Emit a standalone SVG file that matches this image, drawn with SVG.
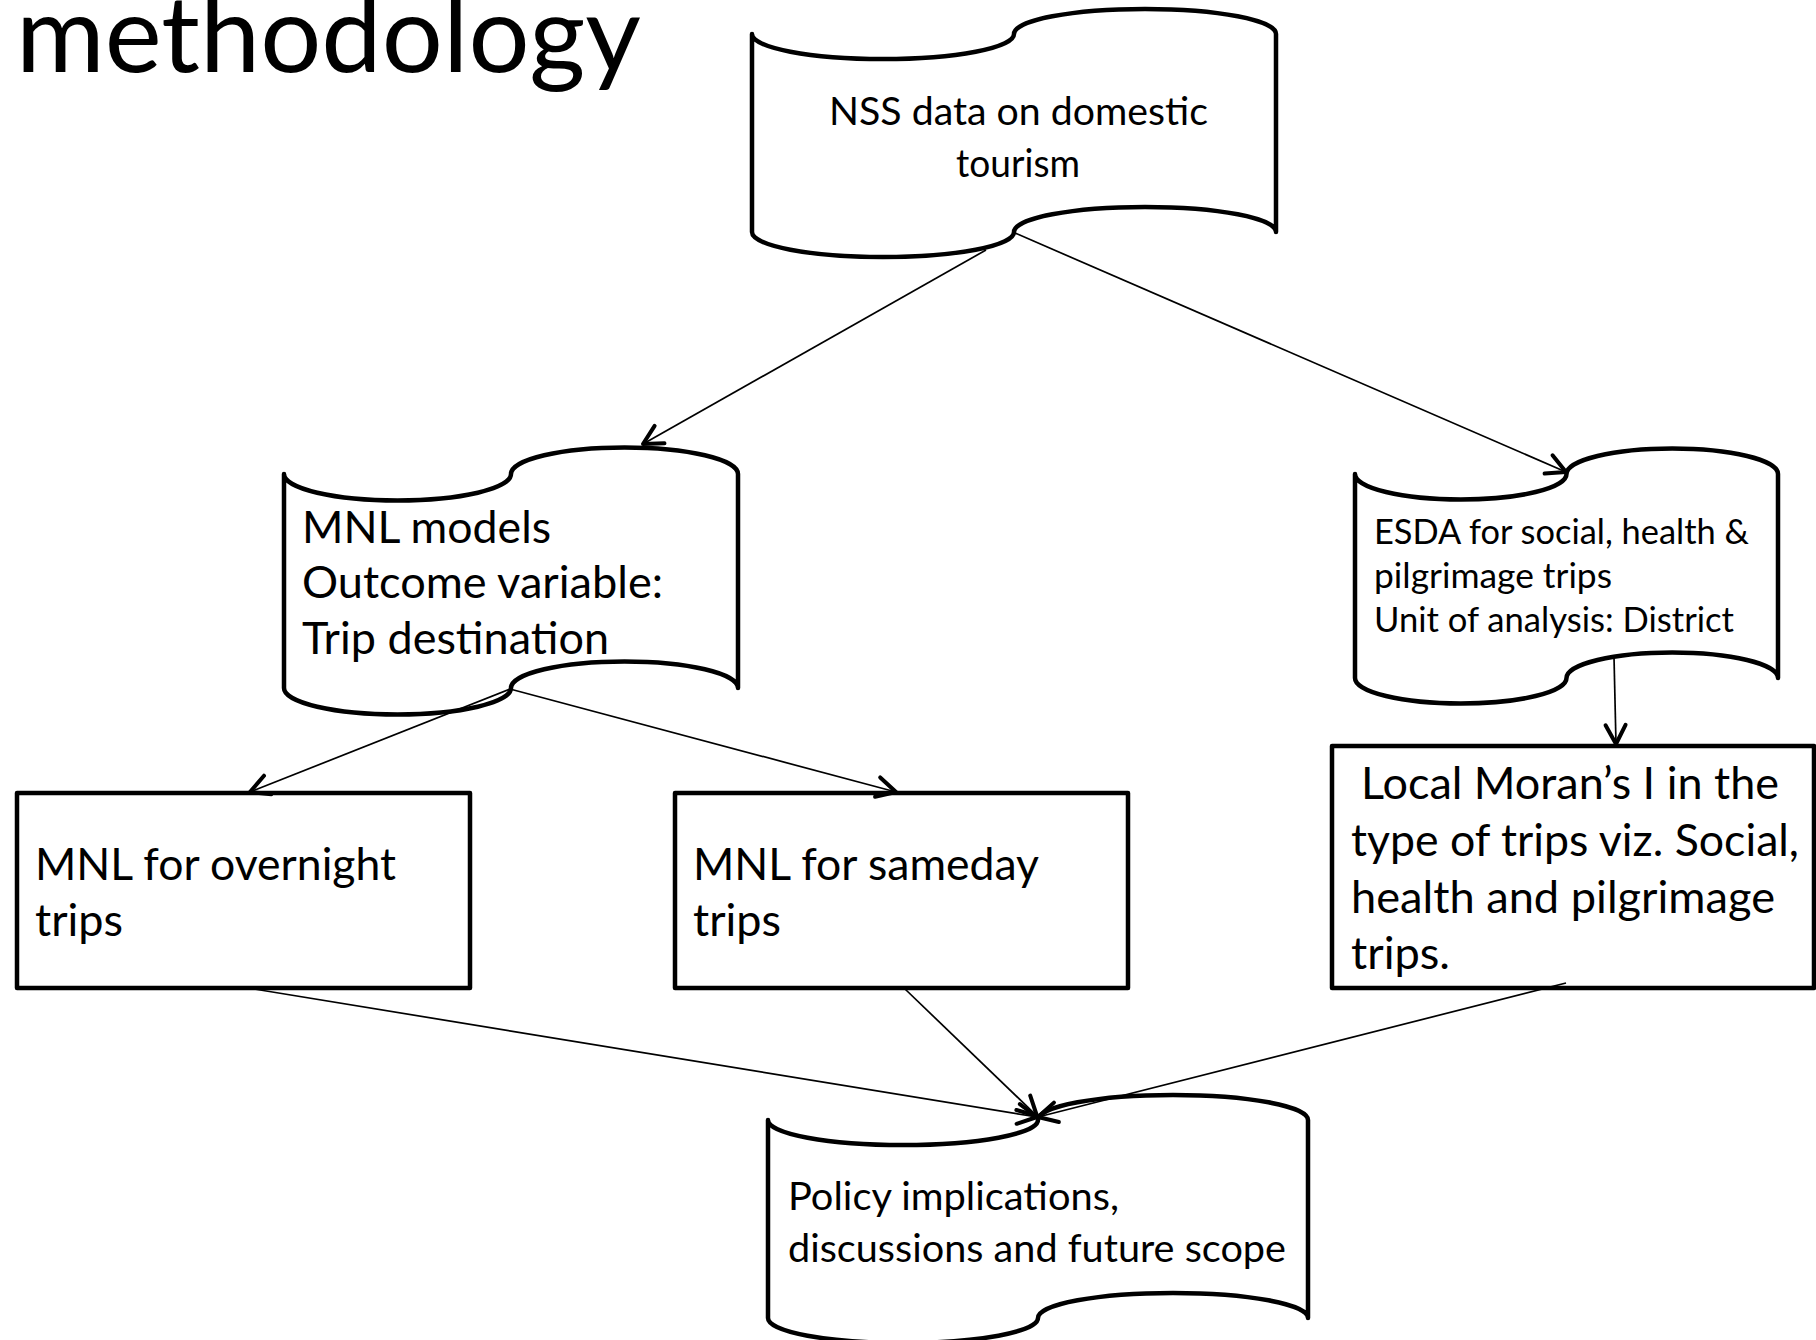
<svg xmlns="http://www.w3.org/2000/svg" width="1816" height="1340" viewBox="0 0 1816 1340">
  <style>
    .tape, .box { fill: #fff; stroke: #000; stroke-width: 4.5; stroke-linejoin: round; }
    .link { fill: none; stroke: #000; stroke-width: 1.7; marker-end: url(#arrow); }
    text { font-family: Lato, "Liberation Sans", sans-serif; fill: #000; }
    .t38 { font-size: 38px; }
    .t34 { font-size: 34px; }
    .t44 { font-size: 44px; }
    .title { font-size: 106px; }
  </style>
  <defs>
    <marker id="arrow" markerUnits="userSpaceOnUse" markerWidth="40" markerHeight="40" viewBox="-30 -20 40 40" refX="0" refY="0" orient="auto" overflow="visible">
      <path d="M-19,-10 L0,0 L-19,10" fill="none" stroke="#000" stroke-width="4" stroke-linecap="round" stroke-linejoin="round"/>
    </marker>
  </defs>

  <rect width="1816" height="1340" fill="#fff"/>

  <text class="title" x="16" y="72" textLength="625" lengthAdjust="spacingAndGlyphs">methodology</text>

  <!-- punched-tape data node -->
  <g id="nss-data">
    <path class="tape" d="M752,34 A131,25 0 0 0 1014,34 A131,25 0 0 1 1276,34 L1276,232 A131,25 0 0 0 1014,232 A131,25 0 0 1 752,232 Z"/>
    <text class="t38" x="829" y="125" textLength="379" lengthAdjust="spacingAndGlyphs">NSS data on domestic</text>
    <text class="t38" x="956" y="177" textLength="124" lengthAdjust="spacingAndGlyphs">tourism</text>
  </g>

  <g id="mnl-models">
    <path class="tape" d="M284,474 A113.5,26.5 0 0 0 511,474 A113.5,26.5 0 0 1 738,474 L738,688 A113.5,26.5 0 0 0 511,688 A113.5,26.5 0 0 1 284,688 Z"/>
    <text class="t44" x="302" y="543" textLength="249" lengthAdjust="spacingAndGlyphs">MNL models</text>
    <text class="t44" x="302" y="598" textLength="361" lengthAdjust="spacingAndGlyphs">Outcome variable:</text>
    <text class="t44" x="302" y="654" textLength="307" lengthAdjust="spacingAndGlyphs">Trip destination</text>
  </g>

  <g id="esda">
    <path class="tape" d="M1355,474 A105.75,25.5 0 0 0 1566.5,474 A105.75,25.5 0 0 1 1778,474 L1778,678 A105.75,25.5 0 0 0 1566.5,678 A105.75,25.5 0 0 1 1355,678 Z"/>
    <text class="t34" x="1374" y="544" textLength="375" lengthAdjust="spacingAndGlyphs">ESDA for social, health &amp;</text>
    <text class="t34" x="1374" y="588" textLength="238" lengthAdjust="spacingAndGlyphs">pilgrimage trips</text>
    <text class="t34" x="1374" y="632" textLength="360" lengthAdjust="spacingAndGlyphs">Unit of analysis: District</text>
  </g>

  <g id="mnl-overnight">
    <rect class="box" x="17" y="793" width="453" height="195"/>
    <text class="t44" x="35" y="880" textLength="361" lengthAdjust="spacingAndGlyphs">MNL for overnight</text>
    <text class="t44" x="35" y="936" textLength="88" lengthAdjust="spacingAndGlyphs">trips</text>
  </g>

  <g id="mnl-sameday">
    <rect class="box" x="675" y="793" width="453" height="195"/>
    <text class="t44" x="693" y="880" textLength="346" lengthAdjust="spacingAndGlyphs">MNL for sameday</text>
    <text class="t44" x="693" y="936" textLength="88" lengthAdjust="spacingAndGlyphs">trips</text>
  </g>

  <g id="local-moran">
    <rect class="box" x="1332" y="746" width="482" height="242"/>
    <text class="t44" x="1361" y="799" textLength="418" lengthAdjust="spacingAndGlyphs">Local Moran’s I in the</text>
    <text class="t44" x="1351" y="856" textLength="448" lengthAdjust="spacingAndGlyphs">type of trips viz. Social,</text>
    <text class="t44" x="1351" y="913" textLength="424" lengthAdjust="spacingAndGlyphs">health and pilgrimage</text>
    <text class="t44" x="1351" y="969" textLength="99" lengthAdjust="spacingAndGlyphs">trips.</text>
  </g>

  <g id="policy">
    <path class="tape" d="M768,1120 A135,25 0 0 0 1038,1120 A135,25 0 0 1 1308,1120 L1308,1318 A135,25 0 0 0 1038,1318 A135,25 0 0 1 768,1318 Z"/>
    <text class="t38" x="788" y="1210" textLength="331" lengthAdjust="spacingAndGlyphs">Policy implications,</text>
    <text class="t38" x="788" y="1262" textLength="498" lengthAdjust="spacingAndGlyphs">discussions and future scope</text>
  </g>

  <!-- connectors -->
  <g id="connectors">
    <line class="link" x1="986" y1="250" x2="643" y2="444"/>
    <line class="link" x1="1015" y1="233" x2="1566" y2="472"/>
    <line class="link" x1="510" y1="689" x2="250" y2="792"/>
    <line class="link" x1="510" y1="689" x2="896" y2="792"/>
    <line class="link" x1="1614" y1="657" x2="1616" y2="744"/>
    <line class="link" x1="254" y1="989" x2="1037" y2="1117"/>
    <line class="link" x1="905" y1="989" x2="1037" y2="1116"/>
    <line class="link" x1="1566" y1="983" x2="1038" y2="1117"/>
  </g>
</svg>
